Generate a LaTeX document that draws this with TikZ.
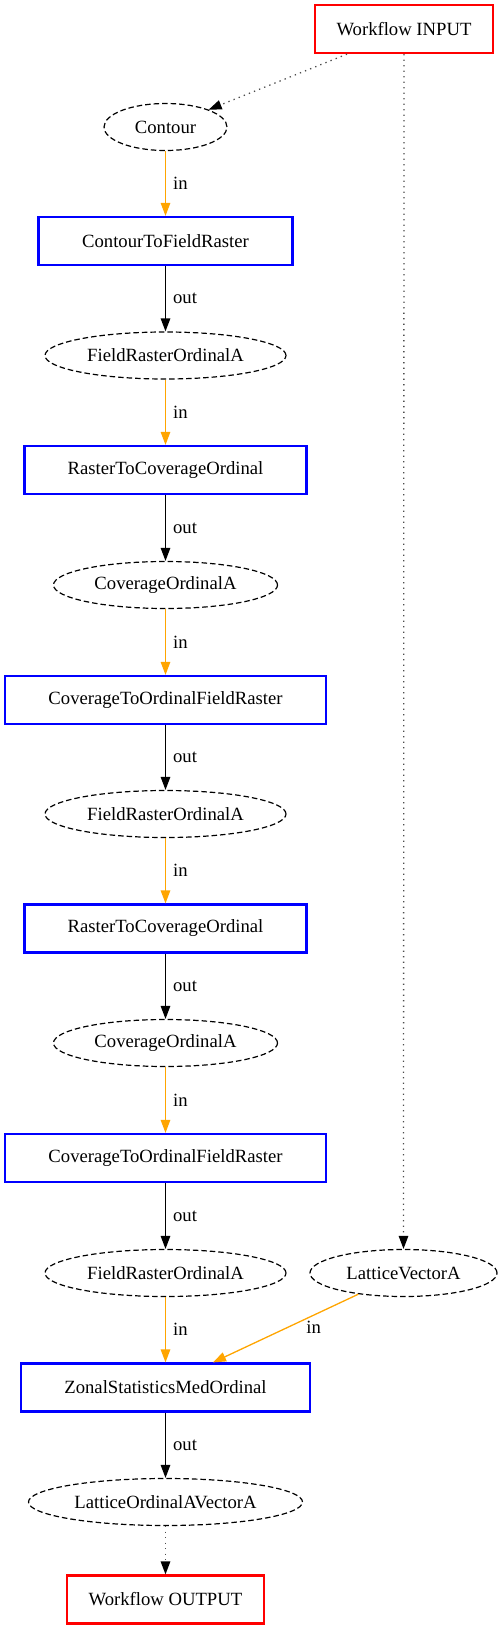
\documentclass[tikz,border=0pt]{standalone}
\usepackage{fontspec}
\setmainfont{Liberation Serif}
\usetikzlibrary{arrows.meta,shapes.geometric}
\definecolor{edgeorange}{HTML}{FFA500}
\begin{document}
\begin{tikzpicture}[x=1pt,y=-1pt,
  every node/.style={font=\fontsize{18.67pt}{22pt}\selectfont, inner sep=0pt},
  endbox/.style={draw=red, line width=2.2pt, rectangle, minimum height=48pt},
  procbox/.style={draw=blue, line width=2.2pt, rectangle, minimum height=48pt},
  dataell/.style={draw=black, line width=1.2pt, ellipse, dash pattern=on 5.5pt off 3pt, minimum height=47pt},
  tip/.style={-{Triangle[length=13pt,width=9.5pt]}},
  inedge/.style={tip, draw=edgeorange, line width=1.3pt},
  outedge/.style={tip, draw=black, line width=1.3pt},
  wfedge/.style={-{Triangle[length=13pt,width=9.5pt,color=black]}, draw=black!70, line width=1.3pt, dash pattern=on 1.3pt off 4.2pt},
  lbl/.style={anchor=west, xshift=7pt}
]
\useasboundingbox (0,0) rectangle (503,1629);

\node[endbox, minimum width=178pt] (input) at (404,29) {Workflow INPUT};
\node[dataell, minimum width=123pt] (c1) at (165.5,127) {Contour};
\node[procbox, minimum width=254pt] (p1) at (165.5,241) {ContourToFieldRaster};
\node[dataell, minimum width=241pt] (e2) at (165.5,355.5) {FieldRasterOrdinalA};
\node[procbox, minimum width=282pt] (p2) at (165.5,470) {RasterToCoverageOrdinal};
\node[dataell, minimum width=224pt] (e3) at (165.5,585) {CoverageOrdinalA};
\node[procbox, minimum width=321pt] (p3) at (165.5,700) {CoverageToOrdinalFieldRaster};
\node[dataell, minimum width=241pt] (e4) at (165.5,814) {FieldRasterOrdinalA};
\node[procbox, minimum width=282pt] (p4) at (165.5,928.5) {RasterToCoverageOrdinal};
\node[dataell, minimum width=224pt] (e5) at (165.5,1043) {CoverageOrdinalA};
\node[procbox, minimum width=321pt] (p5) at (165.5,1158) {CoverageToOrdinalFieldRaster};
\node[dataell, minimum width=241pt] (e6) at (165.5,1273) {FieldRasterOrdinalA};
\node[dataell, minimum width=187pt] (lv) at (403.5,1273) {LatticeVectorA};
\node[procbox, minimum width=289pt] (p6) at (165.5,1387.5) {ZonalStatisticsMedOrdinal};
\node[dataell, minimum width=274pt] (e7) at (165.5,1502) {LatticeOrdinalAVectorA};
\node[endbox, minimum width=197pt] (output) at (165.5,1599.5) {Workflow OUTPUT};

\draw[wfedge] ([xshift=-57pt]input.south) -- (c1);
\draw[wfedge] (input.south) -- (lv.north);

\draw[inedge] (c1) -- node[lbl]{in} (p1);
\draw[outedge] (p1) -- node[lbl]{out} (e2);
\draw[inedge] (e2) -- node[lbl]{in} (p2);
\draw[outedge] (p2) -- node[lbl]{out} (e3);
\draw[inedge] (e3) -- node[lbl]{in} (p3);
\draw[outedge] (p3) -- node[lbl]{out} (e4);
\draw[inedge] (e4) -- node[lbl]{in} (p4);
\draw[outedge] (p4) -- node[lbl]{out} (e5);
\draw[inedge] (e5) -- node[lbl]{in} (p5);
\draw[outedge] (p5) -- node[lbl]{out} (e6);
\draw[inedge] (e6) -- node[lbl]{in} (p6);
\draw[inedge] (lv) -- node[anchor=west, xshift=20pt, yshift=1pt]{in} ([xshift=47.5pt]p6.north);
\draw[outedge] (p6) -- node[lbl]{out} (e7);
\draw[wfedge] (e7) -- (output);
\end{tikzpicture}
\end{document}
